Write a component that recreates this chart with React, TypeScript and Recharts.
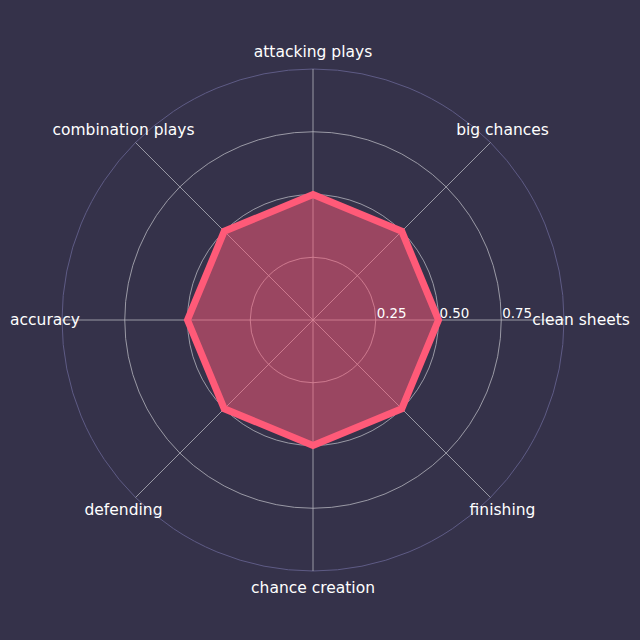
import React from 'react';
import { RadarChart, Radar, PolarGrid, PolarAngleAxis, PolarRadiusAxis } from 'recharts';

const categories = [
  'attacking plays',
  'big chances',
  'clean sheets',
  'finishing',
  'chance creation',
  'defending',
  'accuracy',
  'combination plays',
];
const values = [0.5, 0.5, 0.5, 0.5, 0.5, 0.5, 0.5, 0.5];
const radiusTicks = [0.25, 0.5, 0.75];

const data = categories.map((c, i) => ({ category: c, value: values[i] }));

const OUTER = 251;

const AngleTick = (props: any) => {
  const { x, y, payload } = props;
  return (
    <text
      x={x}
      y={y}
      textAnchor="middle"
      dominantBaseline="central"
      fill="#ffffff"
      fontSize={15.5}
      fontFamily="DejaVu Sans"
    >
      {payload.value}
    </text>
  );
};

const RadiusTick = (props: any) => {
  const { x, y, payload } = props;
  return (
    <text
      x={x + 1}
      y={y - 7}
      textAnchor="start"
      dominantBaseline="central"
      fill="#ffffff"
      fontSize={13.4}
      fontFamily="DejaVu Sans"
    >
      {payload.value.toFixed(2)}
    </text>
  );
};

const App = () => {
  return (
    <div style={{ position: 'absolute', left: 0, top: 0, width: 640, height: 640, background: '#35324a' }}>
      <RadarChart width={640} height={640} data={data} cx={313} cy={320} outerRadius={OUTER} margin={{ top: 0, right: 0, bottom: 0, left: 0 }}>
        <PolarGrid
          gridType="circle"
          radialLines={false}
          polarRadius={[OUTER]}
          stroke="#5e5b85"
          strokeWidth={1}
        />
        <PolarGrid
          gridType="circle"
          polarRadius={radiusTicks.map((t) => t * OUTER)}
          stroke="#b4b4bc"
          strokeWidth={0.8}
        />
        <PolarAngleAxis
          dataKey="category"
          tick={<AngleTick />}
          tickLine={false}
          axisLine={false}
          tickSize={17}
        />
        <PolarRadiusAxis
          angle={0}
          domain={[0, 1]}
          ticks={radiusTicks as any}
          tick={<RadiusTick />}
          axisLine={false}
          tickLine={false}
        />
        <Radar
          dataKey="value"
          stroke="#ff5a78"
          strokeWidth={7}
          strokeLinejoin="miter"
          fill="#ff5a78"
          fillOpacity={0.5}
          isAnimationActive={false}
        />
      </RadarChart>
    </div>
  );
};

export default App;
